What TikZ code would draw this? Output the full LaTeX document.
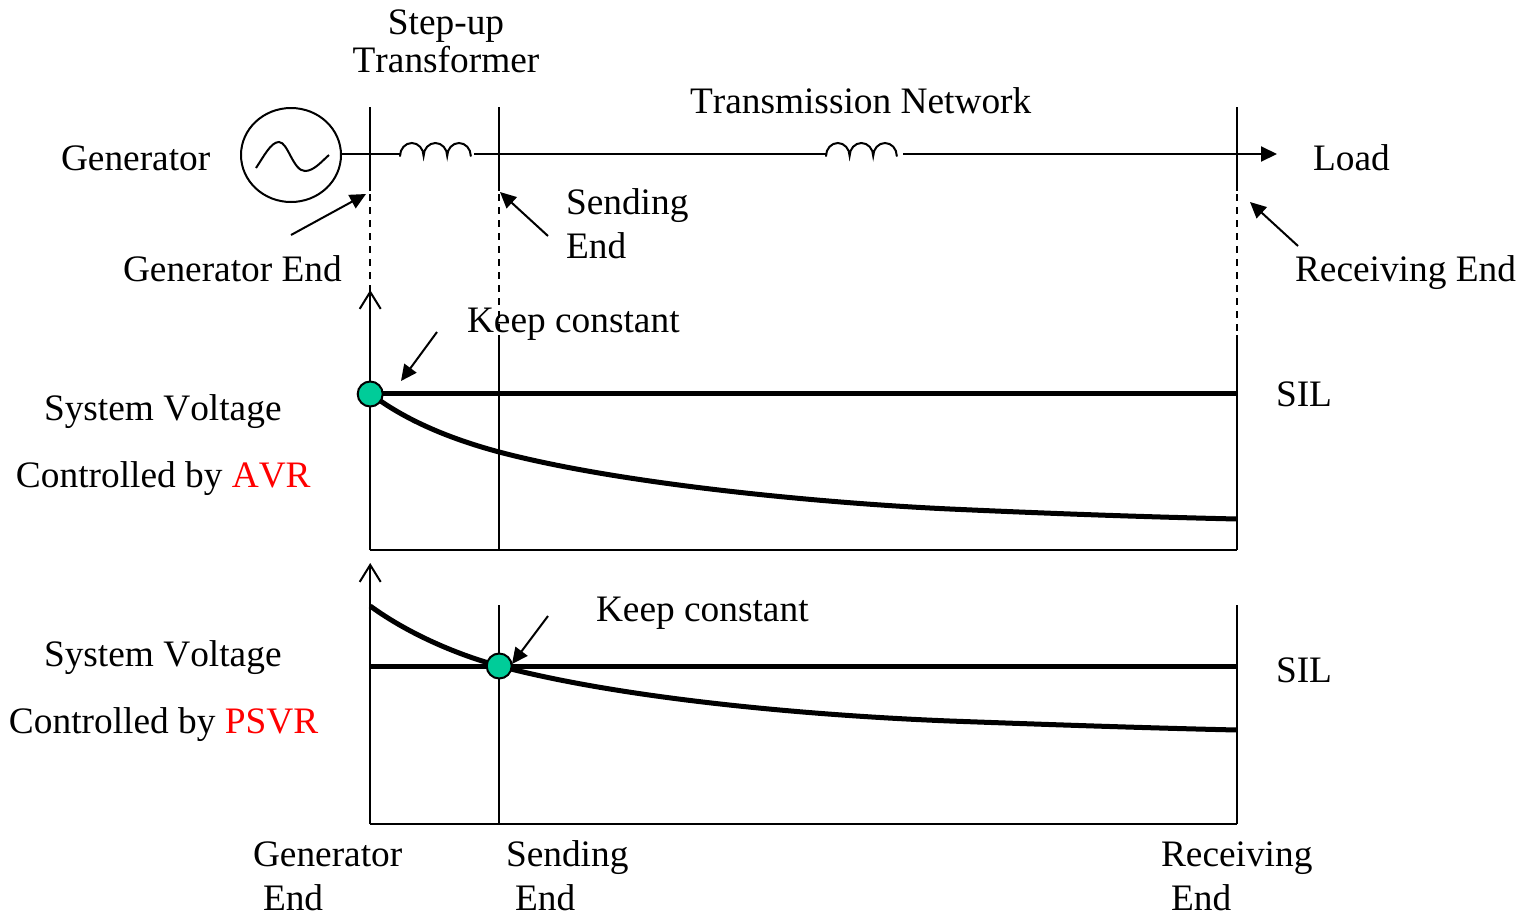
\documentclass[tikz,border=0pt]{standalone}
\usepackage{fontspec}
\setmainfont[Kerning=Off]{Liberation Serif}
\usetikzlibrary{arrows.meta,shapes.geometric}
\definecolor{dotgreen}{HTML}{00CC99}
\tikzset{
  x=1pt,y=-1pt,
  lbl/.style={anchor=base west,inner sep=0pt,outer sep=0pt,font=\fontsize{37.35}{37.35}\selectfont},
  lblc/.style={lbl,anchor=base},
  thin line/.style={line width=2pt,draw=black},
  heavy/.style={line width=5pt,draw=black},
  dashline/.style={line width=2pt,dash pattern=on 7pt off 6pt,shorten <=3pt},
  pointer/.style={line width=2pt,-{Triangle[length=16pt,width=15pt]},shorten <=0pt},
  axis/.style={line width=2pt,-{Straight Barb[length=17pt,width=21pt,line width=2pt]}},
  dot/.style={circle,draw=black,line width=2pt,fill=dotgreen,minimum size=25pt,inner sep=0pt},
  gen/.style={ellipse,draw=black,line width=2pt,minimum width=100pt,minimum height=94pt,inner sep=0pt},
  coil/.style={line width=2pt,line cap=round}
}
\begin{document}
\begin{tikzpicture}
\useasboundingbox (0,0) rectangle (1526,914);
% key coordinates
\coordinate (gTop) at (370.2,107); \coordinate (gMid) at (370.2,191); \coordinate (gLow) at (370.2,395);
\coordinate (sTop) at (499.2,107); \coordinate (sMid) at (499.2,191); \coordinate (sLow) at (499.2,335); \coordinate (sBase) at (499.2,550);
\coordinate (rTop) at (1237,107); \coordinate (rMid) at (1237,191); \coordinate (rLow) at (1237,335); \coordinate (rBase) at (1237,550);
\coordinate (a1Base) at (370.2,550); \coordinate (a1Tip) at (370.2,290);
\coordinate (a2Base) at (370.2,824); \coordinate (a2Tip) at (370.2,563);
\coordinate (s2Top) at (499.2,605); \coordinate (s2Base) at (499.2,824);
\coordinate (r2Top) at (1237,605); \coordinate (r2Base) at (1237,824);
\coordinate (c1a) at (400,154); \coordinate (c1b) at (474,154);
\coordinate (c2a) at (826,154); \coordinate (c2b) at (903,154);
\coordinate (loadTip) at (1277,154);
\coordinate (h1End) at (1237,393.5); \coordinate (h2Start) at (370.2,666); \coordinate (h2End) at (1237,666);
\coordinate (p1s) at (291,235); \coordinate (p1e) at (366,194);
\coordinate (p2s) at (548,236); \coordinate (p2e) at (500,192);
\coordinate (p3s) at (1298,246); \coordinate (p3e) at (1250,202);
\coordinate (p4s) at (437,332); \coordinate (p4e) at (401,381);
\coordinate (p5s) at (548,616); \coordinate (p5e) at (512,664);
% verticals
\draw[thin line] (gTop) -- (gMid);
\draw[thin line] (sTop) -- (sMid);
\draw[thin line] (rTop) -- (rMid);
\draw[dashline] (gMid) -- (gLow);
\draw[dashline] (sMid) -- (sLow);
\draw[dashline] (rMid) -- (rLow);
\draw[thin line] (sLow) -- (sBase);
\draw[thin line] (rLow) -- (rBase);
\draw[axis] (a1Base) -- (a1Tip);
\draw[thin line] (a1Base) -- (rBase);
\draw[axis] (a2Base) -- (a2Tip);
\draw[thin line] (s2Top) -- (s2Base);
\draw[thin line] (r2Top) -- (r2Base);
\draw[thin line] (a2Base) -- (r2Base);
% generator
\node[gen] (G) at (291,155) {};
\draw[line width=2pt] (256,168) .. controls (264,156) and (271,142) .. (279,142)
  .. controls (288,142) and (293,171) .. (305,171)
  .. controls (314,171) and (322,161) .. (329,155);
% feeder with coils
\draw[thin line] (G.east |- c1a) -- (c1a);
\draw[coil] (c1a) ++(0,2) arc[start angle=180,end angle=360,x radius=11.8,y radius=13]
  arc[start angle=180,end angle=360,x radius=11.8,y radius=13]
  arc[start angle=180,end angle=360,x radius=11.8,y radius=13];
\draw[thin line] (c1b) -- (c2a);
\draw[coil] (c2a) ++(0,2) arc[start angle=180,end angle=360,x radius=11.8,y radius=13]
  arc[start angle=180,end angle=360,x radius=11.8,y radius=13]
  arc[start angle=180,end angle=360,x radius=11.8,y radius=13];
\draw[line width=2pt,-{Triangle[length=16pt,width=15pt]}] (c2b) -- (loadTip);
% curves
\draw[heavy] (370.2,393.5) -- (h1End);
\draw[heavy] (370.2,393.5) .. controls (410,424) and (460,441.5) .. (499.2,452)
  .. controls (620,484) and (820,503) .. (950,509)
  .. controls (1060,514) and (1150,517) .. (1237,519);
\draw[heavy] (h2Start) -- (h2End);
\draw[heavy] (370.2,606) .. controls (410,635) and (460,655.5) .. (499.2,666)
  .. controls (620,698) and (800,715) .. (950,721)
  .. controls (1060,725) and (1150,728) .. (1237,730);
% dots
\node[dot] (d1) at (370.2,394) {};
\node[dot] (d2) at (499.2,666) {};
% pointers
\draw[pointer] (p1s) -- (p1e);
\draw[pointer] (p2s) -- (p2e);
\draw[pointer] (p3s) -- (p3e);
\draw[pointer] (p4s) -- (p4e);
\draw[pointer] (p5s) -- (p5e);
% labels
\node[lblc] (t1) at (446,34) {Step-up};
\node[lblc] (t2) at (446,72) {Transformer};
\node[lbl] (t3) at (690,113) {Transmission Network};
\node[lbl] (t4) at (61,170) {Generator};
\node[lbl] (t5) at (1313,170) {Load};
\node[lbl] (t6) at (566,214) {Sending};
\node[lbl] (t7) at (566,258) {End};
\node[lbl] (t8) at (123,281) {Generator End};
\node[lbl] (t9) at (1295,281) {Receiving End};
\node[lbl] (t10) at (467,332) {Keep constant};
\node[lbl] (t11) at (44,420) {System Voltage};
\node[lbl] (t12) at (16,487) {Controlled by \textcolor{red}{AVR}};
\node[lbl] (t13) at (1276,406) {SIL};
\node[lbl] (t14) at (596,621) {Keep constant};
\node[lbl] (t15) at (44,666) {System Voltage};
\node[lbl] (t16) at (9,733) {Controlled by \textcolor{red}{PSVR}};
\node[lbl] (t17) at (1276,682) {SIL};
\node[lbl] (t18) at (253,866) {Generator};
\node[lbl] (t19) at (263,910) {End};
\node[lbl] (t20) at (506,866) {Sending};
\node[lbl] (t21) at (515,910) {End};
\node[lbl] (t22) at (1161,866) {Receiving};
\node[lbl] (t23) at (1171,910) {End};
\end{tikzpicture}
\end{document}
